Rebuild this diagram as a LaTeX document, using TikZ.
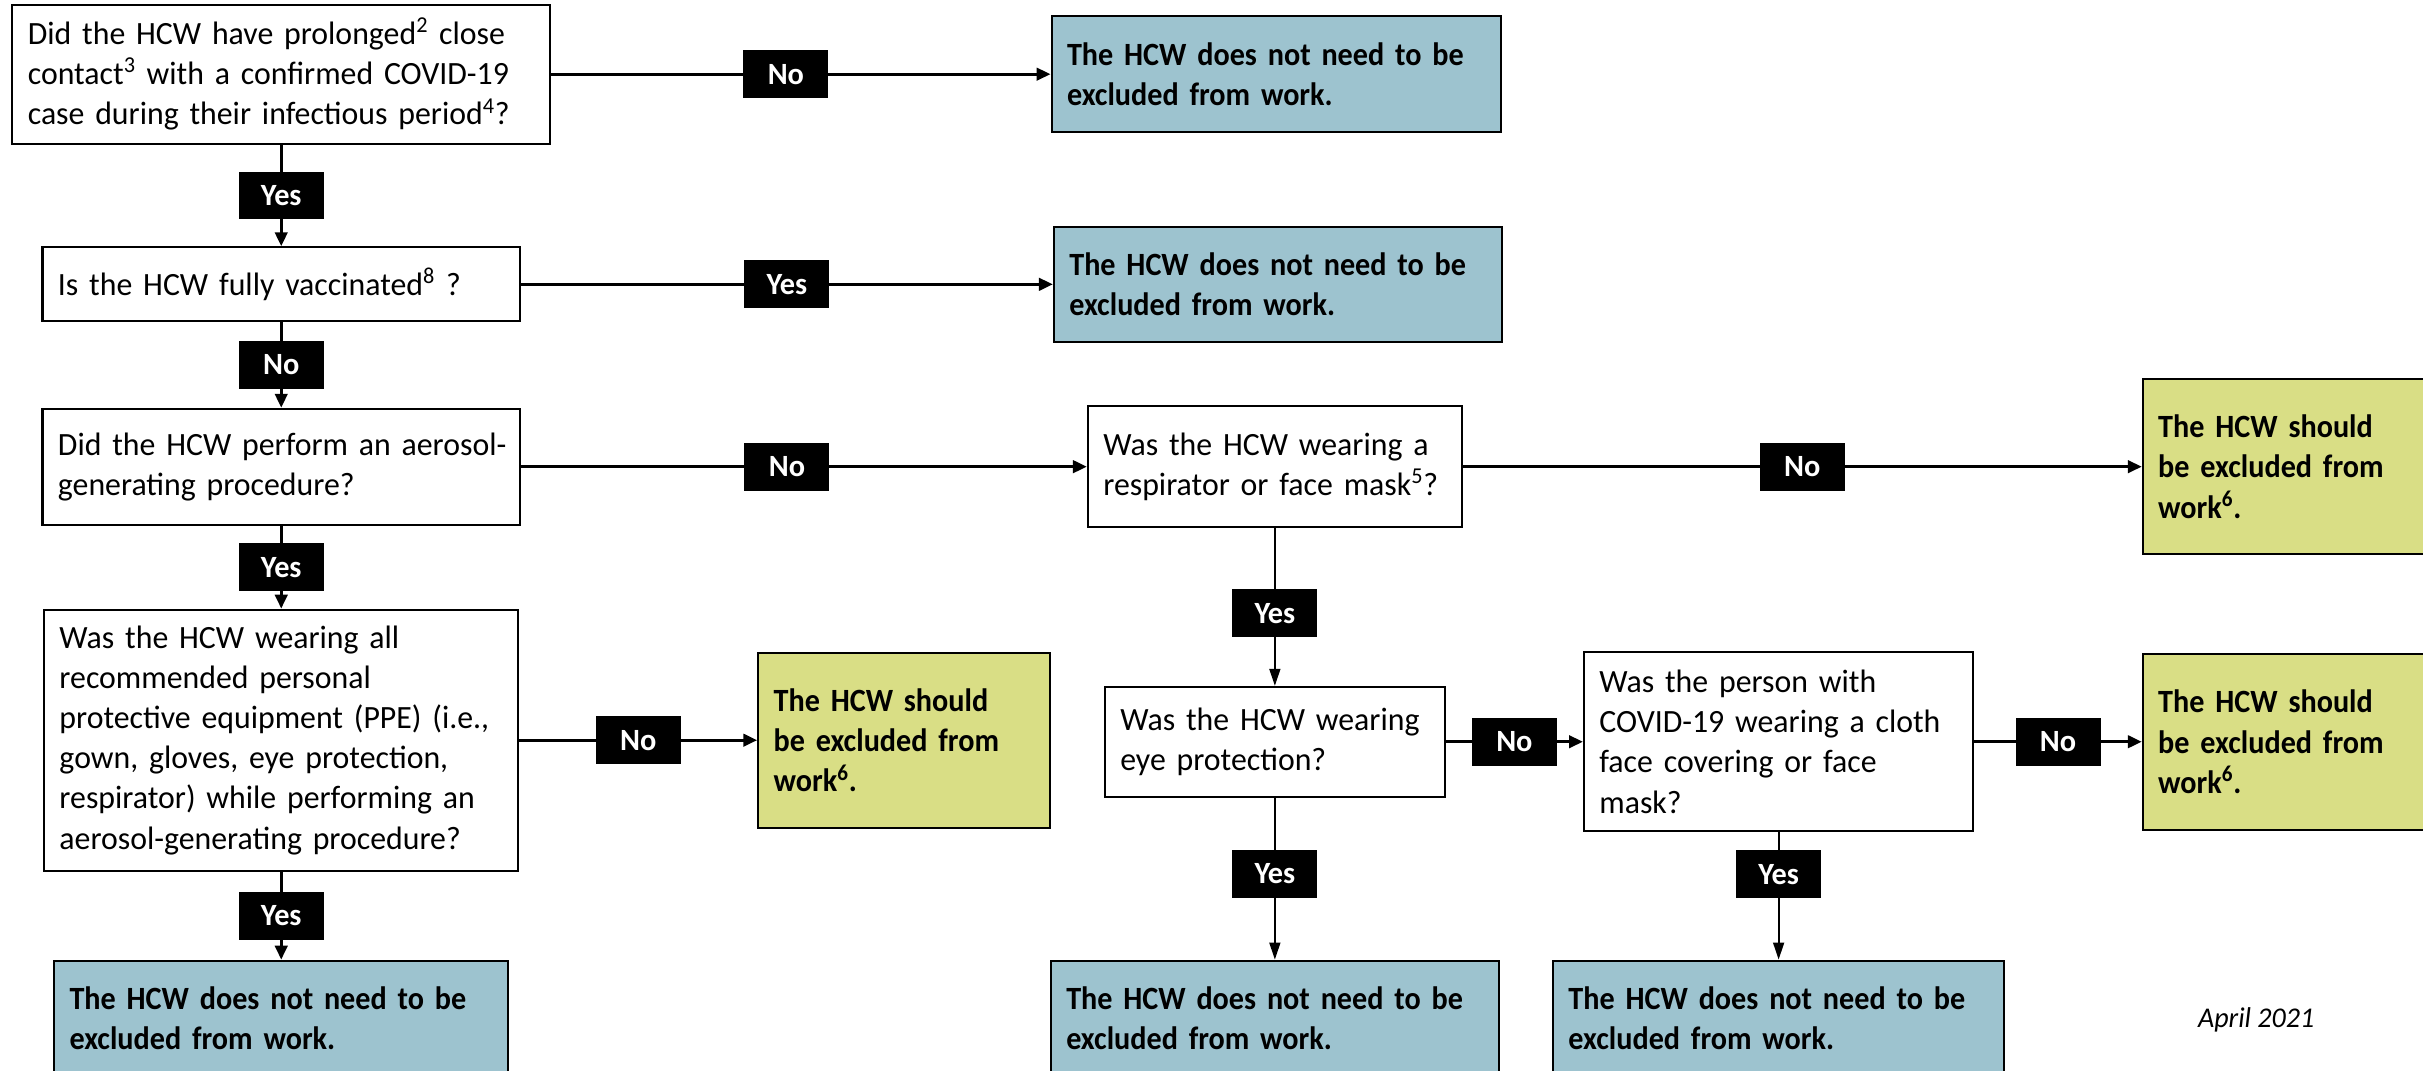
\documentclass[tikz,border=0pt]{standalone}
\usepackage{fontspec}
\setmainfont{Carlito}[FakeStretch=0.98]
\newfontfamily\outcomefont{Carlito}[FakeStretch=0.93]
\usetikzlibrary{arrows.meta,positioning}
\definecolor{okblue}{HTML}{9DC3CF}
\definecolor{exclgreen}{HTML}{D9DE85}

\begin{document}
\begin{tikzpicture}[x=1pt,y=-1pt]
\tikzset{
    question/.style={
       draw, line width=1.3pt, fill=white, align=left,
       inner xsep=10pt, inner ysep=0pt,
       font=\fontsize{21}{26}\selectfont
    },
    notexcl/.style={question, fill=okblue, font=\outcomefont\fontsize{21}{26}\selectfont\bfseries},
    excl/.style={question, fill=exclgreen, font=\outcomefont\fontsize{21}{26}\selectfont\bfseries},
    yesno/.style={
       fill=black, text=white, inner sep=0pt,
       minimum width=55pt, minimum height=31pt,
       font=\fontsize{20}{24}\selectfont\bfseries
    },
    conn/.style={line width=2pt, -{Triangle[length=9pt,width=8pt]}},
    thinconn/.style={line width=1.3pt, -{Triangle[length=11pt,width=7pt]}}
}
%
\useasboundingbox (0,0) rectangle (1568,693);
\clip (0,0) rectangle (1568,693);
\fill[white] (0,0) rectangle (1568,693);

% questions
\node[question, text width=328pt, minimum height=90pt] (contact) at (182,48)
  {Did the HCW have prolonged\textsuperscript{2} close\\contact\textsuperscript{3} with a confirmed COVID-19\\case during their infectious period\textsuperscript{4}?};
\node[question, text width=289pt, minimum height=48pt] (vacc) at (182,184)
  {Is the HCW fully vaccinated\textsuperscript{8} ?};
\node[question, text width=289pt, minimum height=75pt] (agp) at (182,302)
  {\mbox{Did the HCW perform an aerosol-}\\generating procedure?};
\node[question, text width=287pt, minimum height=169pt] (ppe) at (182,479)
  {Was the HCW wearing all\\recommended personal\\protective equipment (PPE) (i.e.,\\gown, gloves, eye protection,\\respirator) while performing an\\aerosol-generating procedure?};
\node[question, text width=222pt, minimum height=78pt] (mask) at (825,302)
  {Was the HCW wearing a\\respirator or face mask\textsuperscript{5}?};
\node[question, text width=200pt, minimum height=71pt] (eyes) at (825,480)
  {Was the HCW wearing\\eye protection?};
\node[question, text width=232pt, minimum height=116pt] (source) at (1151,480)
  {Was the person with\\COVID-19 wearing a cloth\\face covering or face\\mask?};

% outcomes
\node[notexcl, text width=271pt, minimum height=75pt] (ok1) at (826,48)
  {The HCW does not need to be\\excluded from work.};
\node[notexcl, text width=270pt, minimum height=74pt] (ok2) at (827,184)
  {The HCW does not need to be\\excluded from work.};
\node[notexcl, text width=274pt, minimum height=75pt, anchor=north] (ok3) at (182,621)
  {The HCW does not need to be\\excluded from work.};
\node[notexcl, text width=270pt, minimum height=75pt, anchor=north] (ok4) at (825,621)
  {The HCW does not need to be\\excluded from work.};
\node[notexcl, text width=272pt, minimum height=75pt, anchor=north] (ok5) at (1151,621)
  {The HCW does not need to be\\excluded from work.};
\node[excl, text width=180pt, minimum height=113pt, anchor=west] (out1) at (1386,302)
  {The HCW should\\be excluded from\\work\textsuperscript{6}.};
\node[excl, text width=169pt, minimum height=113pt, anchor=west] (out2) at (490,479)
  {The HCW should\\be excluded from\\work\textsuperscript{6}.};
\node[excl, text width=180pt, minimum height=114pt, anchor=west] (out3) at (1386,480)
  {The HCW should\\be excluded from\\work\textsuperscript{6}.};

% connectors
\draw[conn] (contact) -- node[yesno, pos=.47] {No} (ok1);
\draw[conn] (contact) -- node[yesno] {Yes} (vacc);
\draw[conn] (vacc) -- node[yesno] {Yes} (ok2);
\draw[conn] (vacc) -- node[yesno] {No} (agp);
\draw[conn] (agp) -- node[yesno, pos=.47] {No} (mask);
\draw[conn] (agp) -- node[yesno] {Yes} (ppe);
\draw[conn] (mask) -- node[yesno] {No} (out1);
\draw[thinconn] (mask) -- node[yesno, pos=.54] {Yes} (eyes);
\draw[conn] (ppe) -- node[yesno] {No} (out2);
\draw[conn] (ppe) -- node[yesno] {Yes} (ok3);
\draw[conn] (eyes) -- node[yesno] {No} (source);
\draw[thinconn] (eyes) -- node[yesno, pos=.47] {Yes} (ok4);
\draw[conn] (source) -- node[yesno] {No} (out3);
\draw[thinconn] (source) -- node[yesno, pos=.33] {Yes} (ok5);

\node[font=\fontsize{18.5}{22}\selectfont\itshape] (date) at (1460,660) {April 2021};
\end{tikzpicture}
\end{document}
